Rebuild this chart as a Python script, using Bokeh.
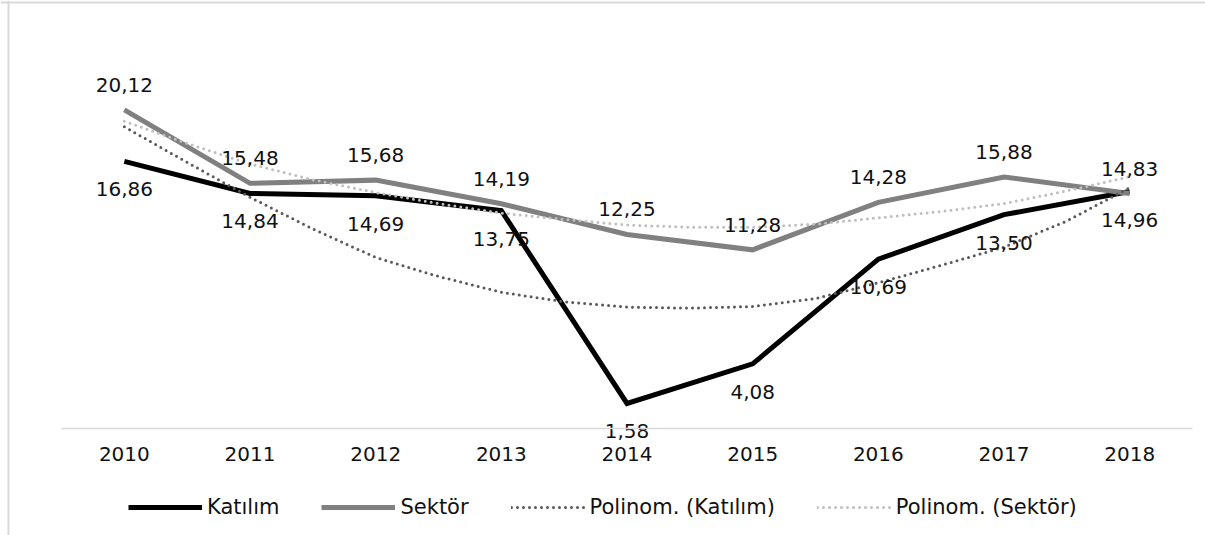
from bokeh.plotting import figure
from bokeh.models import (ColumnDataSource, Range1d, FixedTicker, Legend, LegendItem, Span)
from bokeh.core.properties import value
from bokeh.embed import file_html
from bokeh.resources import INLINE

# ---- data ----
years = [2010, 2011, 2012, 2013, 2014, 2015, 2016, 2017, 2018]
katilim = [16.86, 14.84, 14.69, 13.75, 1.58, 4.08, 10.69, 13.50, 14.96]
sektor = [20.12, 15.48, 15.68, 14.19, 12.25, 11.28, 14.28, 15.88, 14.83]

# polynomial trend lines (half-year steps)
trend_years = [2010, 2010.5, 2011, 2011.5, 2012, 2012.5, 2013, 2013.5, 2014,
               2014.5, 2015, 2015.5, 2016, 2016.5, 2017, 2017.5, 2018]
trend_katilim = [19.05, 16.8, 14.6, 12.6, 10.8, 9.6, 8.6, 8.0, 7.66,
                 7.6, 7.7, 8.2, 9.2, 10.3, 11.45, 13.1, 15.2]
trend_sektor = [19.4, 18.0, 16.7, 15.7, 14.9, 14.2, 13.6, 13.2, 12.85,
                12.7, 12.7, 12.9, 13.3, 13.7, 14.2, 15.0, 15.9]

series_names = ["Katılım", "Sektör", "Polinom. (Katılım)", "Polinom. (Sektör)"]

FONT = "DejaVu Sans"
TXT = "#111111"

def fmt(v):
    return f"{v:.2f}".replace(".", ",")

# ---- layout geometry (pixels) ----
W, H = 1205, 535
PLOT_L, PLOT_R = 61, 1192        # x extent of the category axis
ZERO_Y = 428                      # pixel row of value 0
PX_PER_UNIT = 15.84               # vertical scale
px_per_year = (PLOT_R - PLOT_L) / len(years)
x0 = years[0] - 0.5 - PLOT_L / px_per_year
x1 = years[-1] + 0.5 + (W - PLOT_R) / px_per_year
y0 = -(H - ZERO_Y) / PX_PER_UNIT
y1 = ZERO_Y / PX_PER_UNIT

src_k = ColumnDataSource(dict(x=years, y=katilim, lab=[fmt(v) for v in katilim]))
src_s = ColumnDataSource(dict(x=years, y=sektor, lab=[fmt(v) for v in sektor]))
src_tk = ColumnDataSource(dict(x=trend_years, y=trend_katilim))
src_ts = ColumnDataSource(dict(x=trend_years, y=trend_sektor))

p = figure(width=W, height=H, output_backend="svg", toolbar_location=None,
           x_range=Range1d(x0, x1), y_range=Range1d(y0, y1),
           y_axis_location=None, min_border=0)
p.outline_line_color = None
p.grid.visible = False
p.background_fill_color = "white"
p.border_fill_color = "white"

ax = p.xaxis[0]
ax.fixed_location = 0
ax.bounds = (years[0] - 0.5, years[-1] + 0.5)
ax.ticker = FixedTicker(ticks=years)
ax.axis_line_color = "#d9d9d9"
ax.axis_line_width = 1.5
ax.major_tick_line_color = None
ax.minor_tick_line_color = None
ax.major_label_text_font = FONT
ax.major_label_text_font_size = "20px"
ax.major_label_text_color = TXT
ax.major_label_standoff = 12

r_k = p.line("x", "y", source=src_k, line_color="black", line_width=5, line_join="miter")
r_s = p.line("x", "y", source=src_s, line_color="#808080", line_width=5, line_join="miter")
r_tk = p.line("x", "y", source=src_tk, line_color="#595959", line_width=3,
              line_dash="0 6", line_cap="round")
r_ts = p.line("x", "y", source=src_ts, line_color="#bfbfbf", line_width=3,
              line_dash="0 6", line_cap="round")

p.text("x", "y", text="lab", source=src_s, text_align="center", text_baseline="middle",
       y_offset=-25, text_font=value(FONT), text_font_size="20px", text_color=TXT)
p.text("x", "y", text="lab", source=src_k, text_align="center", text_baseline="middle",
       y_offset=28, text_font=value(FONT), text_font_size="20px", text_color=TXT)

legend = Legend(items=[LegendItem(label=series_names[0], renderers=[r_k]),
                       LegendItem(label=series_names[1], renderers=[r_s]),
                       LegendItem(label=series_names[2], renderers=[r_tk]),
                       LegendItem(label=series_names[3], renderers=[r_ts])],
                orientation="horizontal", location=(128, 16),
                glyph_width=74, glyph_height=20, label_standoff=5, spacing=42,
                padding=0, margin=0, border_line_color=None, background_fill_alpha=0,
                label_text_font=FONT, label_text_font_size="21px", label_text_color=TXT)
p.add_layout(legend, "center")

# outer chart border (left and top edges visible in the reference)
p.add_layout(Span(location=8, dimension="height", location_units="canvas",
                  line_color="#d9d9d9", line_width=2))
p.add_layout(Span(location=2, dimension="width", location_units="canvas",
                  line_color="#d9d9d9", line_width=2))

open("out.html", "w").write(file_html(p, INLINE))
